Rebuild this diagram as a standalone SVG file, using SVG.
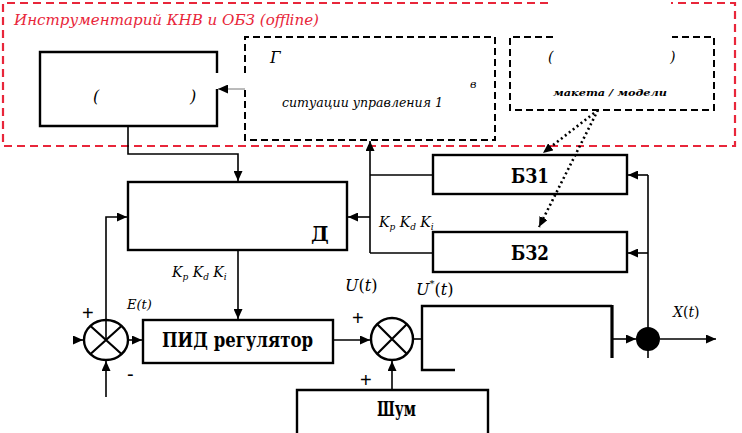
<svg xmlns="http://www.w3.org/2000/svg" width="742" height="433" viewBox="0 0 742 433">
<defs>
<marker id="ah" markerUnits="userSpaceOnUse" markerWidth="10" markerHeight="9" refX="10" refY="4.5" orient="auto">
<path d="M0,0 L10,4.5 L0,9 z" fill="#000"/>
</marker>
</defs>
<style>
.red{fill:none;stroke:#e8263a;stroke-width:2.2;stroke-dasharray:8,5}
.dash{fill:none;stroke:#000;stroke-width:2;stroke-dasharray:7,4}
.box{fill:#fff;stroke:#000;stroke-width:2.4}
.ln{fill:none;stroke:#000;stroke-width:1.6}
.arr{fill:none;stroke:#000;stroke-width:1.6;marker-end:url(#ah)}
.dot{fill:none;stroke:#000;stroke-width:2.6;stroke-dasharray:2,3;marker-end:url(#ah)}
text{font-family:'DejaVu Serif','Liberation Serif',serif}
.bold{font-weight:bold;font-size:20px;fill:#000}
.it{font-style:italic;fill:#000}
.sign{font-family:'Liberation Sans',Arial,sans-serif;font-size:20px;fill:#000}
</style>

<g id="offline-frame">
<path class="red" d="M548,3 L3,3 L3,146 L735,146 L735,3 L671,3"/>
<text class="it" x="14" y="25" font-size="15" style="fill:#e8263a" textLength="305" lengthAdjust="spacingAndGlyphs">Инструментарий КНВ и ОБЗ (offline)</text>
</g>

<g id="ident-model">
<path class="ln" style="stroke-width:2.4" d="M217,73 L217,52 L40,52 L40,126 L217,126 L217,89"/>
<text class="it" x="93" y="102" font-size="16">(</text>
<text class="it" x="190" y="102" font-size="16">)</text>
</g>

<g id="gen-k">
<path class="dash" d="M245,73 L245,37 L495,37 L495,140 L245,140 L245,89"/>
<text class="it" x="270" y="63" font-size="16">Г</text>
<text class="it" x="470" y="88" font-size="11">в</text>
<text class="it" x="282" y="107" font-size="12" textLength="161" lengthAdjust="spacingAndGlyphs">ситуации управления 1</text>
</g>

<g id="model-box">
<path class="dash" d="M553,37 L510,37 L510,110 L714,110 L714,37 L672,37"/>
<text class="it" x="548" y="62" font-size="14">(</text>
<text class="it" x="670" y="62" font-size="14">)</text>
<text class="it" x="553" y="96" font-size="10" font-weight="bold" textLength="114" lengthAdjust="spacingAndGlyphs">макета / модели</text>
</g>

<g id="identifier">
<rect class="box" x="128" y="182" width="219" height="68"/>
<text class="bold" x="311" y="241" font-size="17">Д</text>
</g>

<g id="bz1">
<rect class="box" x="433" y="155" width="194" height="39"/>
<text class="bold" x="530" y="183" font-size="18" text-anchor="middle" textLength="38" lengthAdjust="spacingAndGlyphs">БЗ1</text>
</g>

<g id="bz2">
<rect class="box" x="433" y="232" width="194" height="40"/>
<text class="bold" x="530" y="260" font-size="18" text-anchor="middle" textLength="38" lengthAdjust="spacingAndGlyphs">БЗ2</text>
</g>

<g id="sum1">
<ellipse cx="106" cy="340" rx="22" ry="20" fill="#fff" stroke="#000" stroke-width="2.4"/>
<path class="ln" style="stroke-width:2.2" d="M90.5,326 L121.5,354 M121.5,326 L90.5,354"/>
</g>

<g id="pid">
<rect class="box" x="143" y="320" width="190" height="43"/>
<text class="bold" x="162" y="347" font-size="18" textLength="151" lengthAdjust="spacingAndGlyphs">ПИД регулятор</text>
</g>

<g id="sum2">
<circle cx="392" cy="339" r="21" fill="#fff" stroke="#000" stroke-width="2.4"/>
<path class="ln" style="stroke-width:2.2" d="M377,324 L407,354 M407,324 L377,354"/>
</g>

<g id="noise">
<path class="ln" style="stroke-width:2.4" d="M297,433 L297,390 L488,390 L488,433"/>
<text class="bold" x="377" y="416" font-size="18" textLength="39" lengthAdjust="spacingAndGlyphs">Шум</text>
</g>

<g id="object">
<path class="ln" style="stroke-width:2.4" d="M455,370 L422,370 L422,306 L612,306"/>
<path class="ln" style="stroke-width:3.2" d="M612,305 L612,358"/>
</g>

<g id="junction">
<circle cx="648" cy="339" r="12" fill="#000"/>
</g>

<g id="connectors">
<path class="arr" style="stroke-width:1;stroke:#777" d="M245,89 L218,89"/>
<path class="arr" d="M128,126 L128,154 L238,154 L238,181"/>
<path class="arr" d="M238,250 L238,319"/>
<path class="arr" d="M106,340 L106,217 L127,217"/>
<path class="arr" d="M76,340 L83,340"/>
<path class="arr" d="M106,397 L106,361"/>
<path class="arr" d="M128,340 L142,340"/>
<path class="arr" d="M333,340 L370,340"/>
<path class="arr" d="M392,390 L392,361"/>
<path class="ln" d="M413,339 L422,339"/>
<path class="arr" d="M612,339 L636,339"/>
<path class="arr" d="M660,339 L716,339"/>
<path class="ln" d="M648,358 L648,175"/>
<path class="arr" d="M648,175 L628,175"/>
<path class="arr" d="M648,253 L628,253"/>
<path class="ln" d="M433,175 L370,175"/>
<path class="ln" d="M433,253 L370,253"/>
<path class="arr" d="M370,253 L370,141"/>
<path class="arr" d="M370,217 L348,217"/>
<path class="dot" d="M598,110 L543,153"/>
<path class="dot" d="M598,110 L539,227"/>
</g>

<g id="labels">
<text class="it" x="172" y="277" font-size="14">K<tspan font-size="9" dy="3">p</tspan><tspan dy="-3"> K</tspan><tspan font-size="9" dy="3">d</tspan><tspan dy="-3"> K</tspan><tspan font-size="9" dy="3">i</tspan></text>
<text class="it" x="379" y="227" font-size="14">K<tspan font-size="9" dy="3">p</tspan><tspan dy="-3"> K</tspan><tspan font-size="9" dy="3">d</tspan><tspan dy="-3"> K</tspan><tspan font-size="9" dy="3">i</tspan></text>
<text class="it" x="127" y="309" font-size="13">E(t)</text>
<text class="it" x="345" y="291" font-size="16">U<tspan font-style="normal">(</tspan>t<tspan font-style="normal">)</tspan></text>
<text class="it" x="416" y="295" font-size="16">U<tspan font-size="10" dy="-8">*</tspan><tspan dy="8" font-style="normal">(</tspan>t<tspan font-style="normal">)</tspan></text>
<text class="it" x="673" y="317" font-size="14">X<tspan font-style="normal">(</tspan>t<tspan font-style="normal">)</tspan></text>
<text class="sign" x="82" y="320">+</text>
<text class="sign" x="127" y="381">-</text>
<text class="sign" x="352" y="325">+</text>
<text class="sign" x="360" y="387">+</text>
</g>
</svg>
